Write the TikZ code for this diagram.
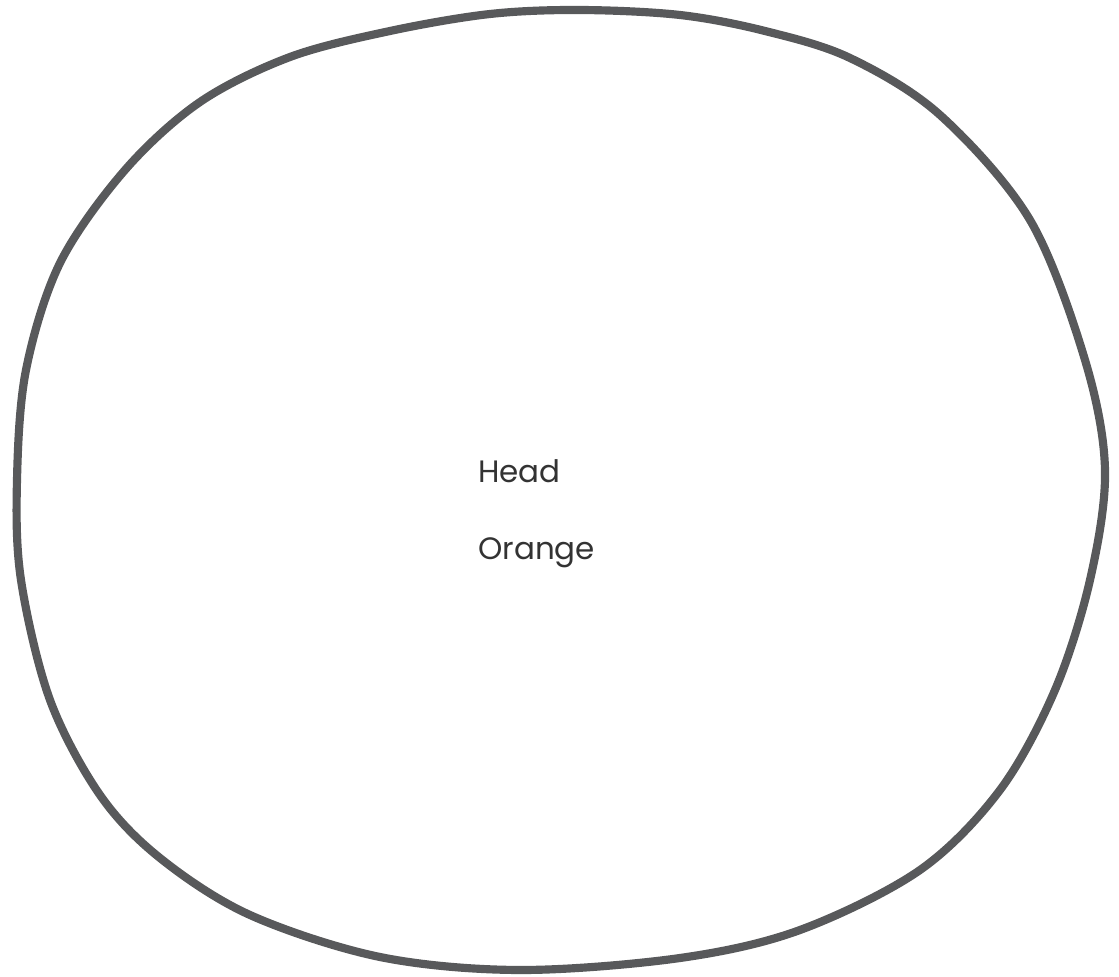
\documentclass[tikz,border=0pt]{standalone}
\usepackage{fontspec}
\setmainfont{Poppins}
\usepackage{tikz}
\usetikzlibrary{positioning}
\definecolor{OutlineGray}{HTML}{58595B}
\definecolor{TextGray}{HTML}{333333}
\tikzset{%
  outline/.style={draw=OutlineGray,line width=5.8pt,line join=round},
  tag/.style={anchor=base west,inner sep=0pt,text=TextGray,font=\fontsize{22}{26}\selectfont}
}
\begin{document}
\begin{tikzpicture}[x=0.025cm,y=-0.025cm]
      \useasboundingbox (0,0) rectangle (1119,977);
      \draw[outline] plot[smooth cycle,tension=0.55] coordinates {
        (490,14) (580,10) (680,15) (765,31) (850,58) (940,115) (1030,220)
        (1085,360) (1105,470) (1090,580) (1055,690) (1000,790) (920,870)
        (800,930) (680,958) (520,970) (380,957) (250,915) (160,858)
        (100,795) (50,700) (21,580) (17,480) (26,370) (60,263)
        (125,170) (200,102) (290,57) (390,31)};
      \node[tag] (head) at (478,483) {Head};
      \node[tag] (orange) at (478,560) {Orange};
    \end{tikzpicture}
\end{document}
